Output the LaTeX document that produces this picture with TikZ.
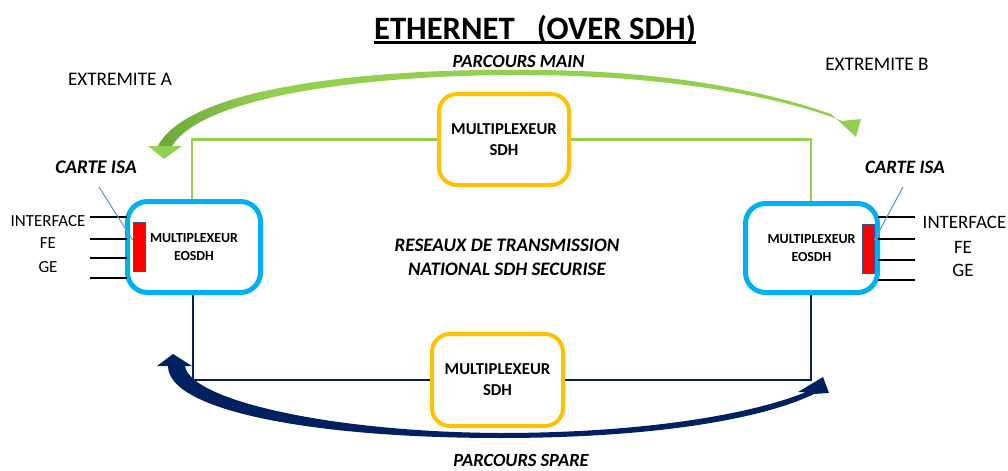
\documentclass[tikz,border=0pt]{standalone}
\usepackage{fontspec}
\setmainfont{Carlito}
\definecolor{grn}{HTML}{92D050}
\definecolor{grnd}{HTML}{6AA536}
\definecolor{yel}{HTML}{FFC000}
\definecolor{cyb}{HTML}{00B0F0}
\definecolor{navy}{HTML}{002060}
\definecolor{ptr}{HTML}{5B9BD5}
\definecolor{redb}{HTML}{2F5597}
\begin{document}
\begin{tikzpicture}[x=0.75pt,y=-0.75pt,
  sdhbox/.style={draw=yel,line width=3pt,rounded corners=13.5pt,align=center,
    font=\fontsize{12.5pt}{15.75pt}\selectfont\bfseries,inner sep=0pt},
  eobox/.style={draw=cyb,line width=3.75pt,rounded corners=15pt,align=center,
    font=\fontsize{10.4pt}{13.5pt}\selectfont\bfseries,inner sep=0pt},
  isa/.style={draw=redb,line width=0.6pt,fill=red,minimum width=9pt,minimum height=36.75pt,inner sep=0pt},
  lbl/.style={inner sep=0pt,anchor=base},
  bi/.style={lbl,font=\fontsize{13.9pt}{17pt}\selectfont\bfseries\itshape},
  ext/.style={lbl,font=\fontsize{14.4pt}{17pt}\selectfont},
  ifl/.style={lbl,font=\fontsize{12.7pt}{15pt}\selectfont},
  ifr/.style={lbl,font=\fontsize{14.2pt}{17pt}\selectfont},
  grnline/.style={draw=grn,line width=2.2pt},
  navline/.style={draw=navy,line width=2.2pt},
  portline/.style={draw=black,line width=1.1pt},
  pointer/.style={draw=ptr,line width=0.8pt}]
\useasboundingbox (0,0) rectangle (1008,471);

% title
\node[lbl,font=\fontsize{24.5pt}{28pt}\selectfont\bfseries] (title) at (535,39) {ETHERNET\ \ \ (OVER SDH)};
\draw[line width=2.2pt] ([yshift=-2.6pt]title.base west) -- ([yshift=-2.6pt]title.base east);

% boxes
\node[sdhbox,minimum width=97.5pt,minimum height=68.25pt] (T) at (504,139.5) {MULTIPLEXEUR\\SDH};
\node[sdhbox,minimum width=98.25pt,minimum height=69pt] (B) at (497.5,380) {MULTIPLEXEUR\\SDH};
\node[eobox,minimum width=99.75pt,minimum height=68.25pt] (L) at (194,247) {MULTIPLEXEUR\\EOSDH};
\node[eobox,minimum width=99pt,minimum height=66.75pt] (R) at (811.5,248) {MULTIPLEXEUR\\EOSDH};
\node[isa] (ra) at (139,246.5) {};
\node[isa] (rb) at (868,248.5) {};

% links
\draw[grnline] (L.north -| 192,0) |- (T.west);
\draw[grnline] (T.east) -| (R.north -| 811,0);
\draw[navline] (L.south -| 193,0) |- (B.west);
\draw[navline] (B.east) -| (R.south -| 811,0);

% ports
\foreach \yy in {217,239,258,278} \draw[portline] (90,\yy) -- (127,\yy);
\foreach \yy in {217,239,260,280} \draw[portline] (878,\yy) -- (915,\yy);
\node[ifl] (ia) at (48,226.5) {INTERFACE};
\node[ifl] (fa) at (48,248.5) {FE};
\node[ifl] (ga) at (48,272.5) {GE};
\node[ifr] (ib) at (964.5,228) {INTERFACE};
\node[ifr] (fb) at (963,253) {FE};
\node[ifr] (gb) at (963,276) {GE};

% carte isa
\node[bi,font=\fontsize{14.5pt}{17pt}\selectfont\bfseries\itshape] (ca) at (96,173) {CARTE ISA};
\node[bi,font=\fontsize{14.2pt}{17pt}\selectfont\bfseries\itshape] (cb) at (905,173) {CARTE ISA};
\coordinate (pa) at (99,187);
\coordinate (pb) at (903,187);
\draw[pointer] (pa) -- (ra.west |- 0,240);
\draw[pointer] (pb) -- (rb.east |- 0,240);

% labels
\node[ext] (ea) at (120,85) {EXTREMITE A};
\node[ext] (eb) at (877,70) {EXTREMITE B};
\node[bi] (pm) at (518.5,67.5) {PARCOURS MAIN};
\node[bi] (ps) at (521,466.5) {PARCOURS SPARE};
\node[bi,font=\fontsize{14.3pt}{18pt}\selectfont\bfseries\itshape] (n1) at (507,251) {RESEAUX DE TRANSMISSION};
\node[bi,font=\fontsize{14.3pt}{18pt}\selectfont\bfseries\itshape] (n2) at (507,275) {NATIONAL SDH SECURISE};

% green curved arrow (main)
\fill[grn] (158,146) -- (148,146) -- (164,159) -- (182,146) -- (172,146)
  .. controls (205,92) and (390,74) .. (530,75)
  .. controls (680,76) and (790,100) .. (842,121)
  -- (861,119) -- (856,137) -- (831,114)
  .. controls (780,96) and (680,70) .. (530,70)
  .. controls (380,68) and (190,85) .. (158,146) -- cycle;
\begin{scope}
  \clip (158,146) -- (172,146)
    .. controls (205,92) and (390,74) .. (530,75) -- (530,70)
    .. controls (380,68) and (190,85) .. (158,146) -- cycle;
  \shade[left color=grnd,right color=grn] (150,60) rectangle (270,150);
\end{scope}

% navy curved arrow (spare)
\fill[navy] (168,366) -- (157,366) -- (173,354) -- (192,366) -- (185,366)
  .. controls (190,400) and (330,432) .. (500,433)
  .. controls (640,433) and (750,415) .. (806,392)
  -- (798,392) -- (823,377) -- (829,393) -- (814,394)
  .. controls (760,420) and (650,438) .. (500,438)
  .. controls (310,438) and (168,410) .. (168,366) -- cycle;
\end{tikzpicture}
\end{document}
